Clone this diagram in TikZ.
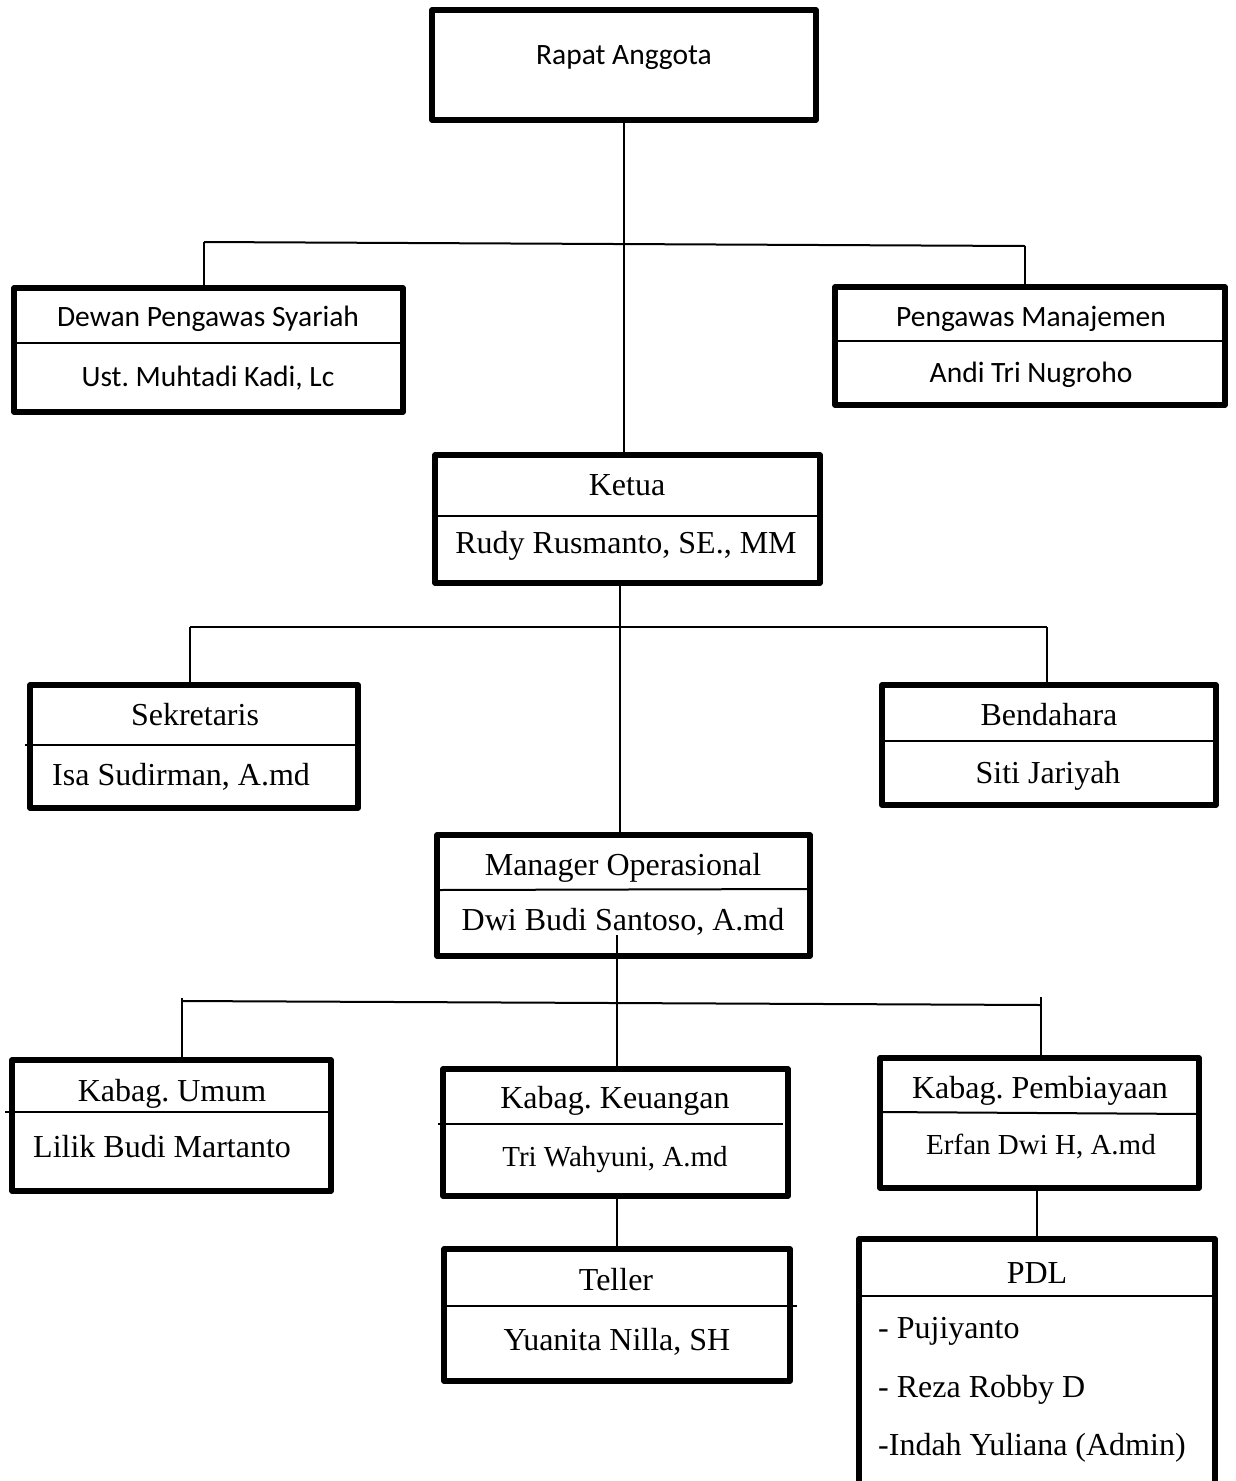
\documentclass[tikz,border=0pt]{standalone}
\usepackage{fontspec}
\setmainfont{Liberation Serif}
\newfontfamily\calib{Carlito}
\frenchspacing
\begin{document}
\frenchspacing
\begin{tikzpicture}[x=1pt,y=-1pt,
  box/.style={draw, line width=5.5pt, rectangle, outer sep=0pt, inner sep=0pt, line join=round},
  div/.style={line width=2pt},
  conn/.style={line width=2pt},
  ser/.style={font=\frenchspacing\fontsize{32}{36}\selectfont, text height=21pt, text depth=0pt, inner sep=0pt},
  sers/.style={font=\frenchspacing\fontsize{29}{33}\selectfont, text height=19pt, text depth=0pt, inner sep=0pt},
  san/.style={font=\frenchspacing\calib\fontsize{29.5}{33}\selectfont, text height=18.5pt, text depth=0pt, inner sep=0pt}]
\useasboundingbox[fill=white] (0,0) rectangle (1235,1481);

% boxes
\node[box, minimum width=384pt, minimum height=110pt] (rapat) at (624,65) {};
\node[box, minimum width=389pt, minimum height=124pt] (dps) at (208.5,350) {};
\node[box, minimum width=390pt, minimum height=118pt] (pm) at (1030,346) {};
\node[box, minimum width=385pt, minimum height=128pt] (ketua) at (627.5,519) {};
\node[box, minimum width=328pt, minimum height=123pt] (sek) at (194,746.5) {};
\node[box, minimum width=334pt, minimum height=120pt] (bend) at (1049,745) {};
\node[box, minimum width=373pt, minimum height=121pt] (mgr) at (623.5,895.5) {};
\node[box, minimum width=319pt, minimum height=131pt] (umum) at (171.5,1125.5) {};
\node[box, minimum width=345pt, minimum height=127pt] (keu) at (615.5,1132.5) {};
\node[box, minimum width=319pt, minimum height=130pt] (pemb) at (1039.5,1123) {};
\node[box, minimum width=346pt, minimum height=132pt] (teller) at (617,1315) {};
\node[box, minimum width=356pt, minimum height=281pt] (pdl) at (1037,1379.5) {};

% dividers
\draw[div] (14,343) -- (403,343);
\draw[div] (835,341) -- (1225,341);
\draw[div] (435,516) -- (820,516);
\draw[div] (25,745) -- (357,745);
\draw[div] (882,741) -- (1216,741);
\draw[div] (438,890) -- (810,889);
\draw[div] (5,1112) -- (331,1112);
\draw[div] (438,1124) -- (783,1124);
\draw[div] (880,1112) -- (1199,1114);
\draw[div] (445,1306) -- (797,1306);
\draw[div] (859,1296) -- (1215,1296);

% connectors
\draw[conn] (rapat.south) -- (rapat.south |- ketua.north);
\coordinate (b1l) at (204,242);
\coordinate (b1r) at (1025,246);
\draw[conn] (b1l) -- (b1r);
\draw[conn] (b1l) -- (b1l |- dps.north);
\draw[conn] (b1r) -- (b1r |- pm.north);

\coordinate (k1) at (620,0);
\draw[conn] (k1 |- ketua.south) -- (k1 |- mgr.north);
\coordinate (b2l) at (190,627);
\coordinate (b2r) at (1047,627);
\draw[conn] (b2l) -- (b2r);
\draw[conn] (b2l) -- (b2l |- sek.north);
\draw[conn] (b2r) -- (b2r |- bend.north);

\coordinate (m1) at (617,935);
\draw[conn] (m1) -- (m1 |- keu.north);
\coordinate (b3l) at (182,1001);
\coordinate (b3r) at (1041,1005);
\draw[conn] (b3l) -- (b3r);
\draw[conn] (182,998) -- (b3l |- umum.north);
\draw[conn] (1041,997) -- (b3r |- pemb.north);

\coordinate (t1) at (617,0);
\draw[conn] (t1 |- keu.south) -- (t1 |- teller.north);
\coordinate (p1) at (1037,0);
\draw[conn] (p1 |- pemb.south) -- (p1 |- pdl.north);

% texts
\node[san] (t-rapat) at (624,55) {Rapat Anggota};
\node[san] (t-dps1) at (208,317) {Dewan Pengawas Syariah};
\node[san] (t-dps2) at (208,377) {Ust. Muhtadi Kadi, Lc};
\node[san] (t-pm1) at (1031,317) {Pengawas Manajemen};
\node[san] (t-pm2) at (1031,373) {Andi Tri Nugroho};

\node[ser] (t-k1) at (627,485) {Ketua};
\node[ser] (t-k2) at (626,543) {Rudy Rusmanto, SE., MM};
\node[ser] (t-s1) at (195,715) {Sekretaris};
\node[ser, anchor=west] (t-s2) at (52,775) {Isa Sudirman, A.md};
\node[ser] (t-b1) at (1049,715) {Bendahara};
\node[ser] (t-b2) at (1048,773) {Siti Jariyah};
\node[ser] (t-m1) at (623,865) {Manager Operasional};
\node[ser] (t-m2) at (623,920) {Dwi Budi Santoso, A.md};
\node[ser] (t-u1) at (172,1091) {Kabag. Umum};
\node[ser, anchor=west] (t-u2) at (33,1147) {Lilik Budi Martanto};
\node[ser] (t-ke1) at (615,1098) {Kabag. Keuangan};
\node[sers] (t-ke2) at (615,1157) {Tri Wahyuni, A.md};
\node[ser] (t-pe1) at (1040,1088) {Kabag. Pembiayaan};
\node[sers] (t-pe2) at (1041,1145) {Erfan Dwi H, A.md};
\node[ser] (t-te1) at (616,1280) {Teller};
\node[ser] (t-te2) at (617,1340) {Yuanita Nilla, SH};
\node[ser] (t-pdl) at (1037,1273) {PDL};
\node[ser, anchor=west] (t-pdl1) at (878,1328) {- Pujiyanto};
\node[ser, anchor=west] (t-pdl2) at (878,1387) {- Reza Robby D};
\node[ser, anchor=west] (t-pdl3) at (878,1445) {-Indah Yuliana (Admin)};
\end{tikzpicture}
\end{document}
